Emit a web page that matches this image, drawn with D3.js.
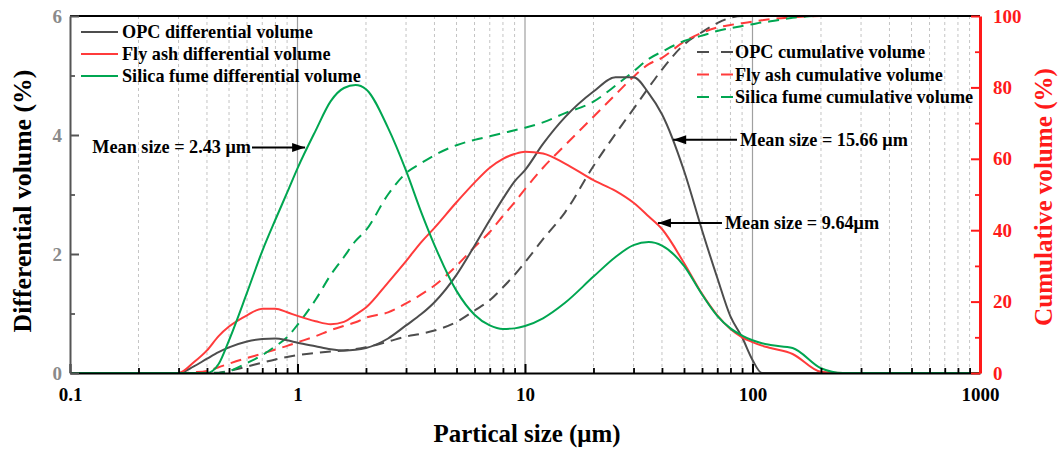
<!DOCTYPE html>
<html><head><meta charset="utf-8">
<script src="https://cdn.jsdelivr.net/npm/d3@7/dist/d3.min.js"></script>
<style>
html,body{margin:0;padding:0;background:#fff;}
svg text{font-family:"Liberation Serif","Times New Roman",serif;font-weight:bold;}
</style></head>
<body><svg id="c" width="1059" height="450"></svg>
<script>
// ---- data ----
const sizes = [0.1,0.2,0.3,0.35,0.4,0.45,0.5,0.6,0.7,0.8,0.9,1,1.2,1.4,1.6,1.8,2,2.5,3,3.5,4,5,6,7,8,9,10,12,15,20,25,30,35,40,50,60,70,80,90,100,110,120,150,200,250,1000];
const opcDiff =    [0,0,0,0.11,0.24,0.35,0.43,0.53,0.57,0.58,0.55,0.51,0.45,0.40,0.38,0.39,0.42,0.58,0.80,0.99,1.19,1.65,2.14,2.57,2.93,3.22,3.41,3.85,4.30,4.73,4.97,4.97,4.70,4.35,3.40,2.40,1.60,0.95,0.60,0.22,0,0,0,0,0,0];
const flyDiff =    [0,0,0,0.18,0.38,0.62,0.78,0.97,1.08,1.08,1.02,0.96,0.87,0.82,0.86,0.98,1.10,1.52,1.88,2.20,2.44,2.87,3.20,3.45,3.60,3.68,3.72,3.69,3.52,3.24,3.06,2.86,2.63,2.42,1.85,1.33,0.97,0.74,0.60,0.52,0.46,0.42,0.32,0.02,0,0];
const sfDiff =     [0,0,0,0,0,0.15,0.55,1.35,2.05,2.58,3.03,3.44,4.07,4.57,4.79,4.84,4.77,4.12,3.40,2.70,2.15,1.38,0.98,0.80,0.74,0.75,0.79,0.92,1.18,1.62,1.95,2.15,2.20,2.14,1.80,1.32,0.96,0.75,0.63,0.55,0.50,0.47,0.42,0.08,0,0];
const opcCum =     [0,0,0,0,0,0.1,0.6,1.8,2.9,3.8,4.5,5.0,5.6,6.0,6.3,6.7,7.2,8.8,10.2,11.0,11.9,14.3,17.5,20.4,24,27.5,31,37.5,45,58,67,74,80,85,92,95.5,98,99.5,100,100,100,100,100,100,100,100];
const flyCum =     [0,0,0,0.2,0.6,1.6,2.6,4.2,5.4,6.6,7.6,8.6,10.3,12,13.2,14.2,15.5,17,19.5,22,24.5,30,35.3,39.5,44,47.8,51.5,57.5,63.8,71.8,78,83,86.5,88.3,92.8,95.3,96.8,97.5,98,98.4,98.8,99.1,99.6,100,100,100];
const sfCum =      [0,0,0,0,0,0,0.5,2.8,5,7.5,10,13.5,20.5,27.5,32.5,37,40,50,56,58.8,61,63.8,65.3,66.3,67.2,68,68.7,70.2,72.8,76,80.5,84.5,88,90,93,94.5,95.8,96.6,97.2,97.7,98.2,98.5,99.5,100,100,100];

const xMajor = [0.1,1,10,100,1000];
const xMajorLabels = ["0.1","1","10","100","1000"];
const yLeftTicks = [0,2,4,6];
const yLeftMinor = [1,3,5];
const yRightTicks = [0,20,40,60,80,100];
const yRightMinor = [10,30,50,70,90];

const diffNames = ["OPC differential volume","Fly ash differential volume","Silica fume differential volume"];
const cumNames = ["OPC cumulative volume","Fly ash cumulative volume","Silica fume cumulative volume"];
const colors = ["#4d4d4d","#ff3b3b","#00a651"];

const annotations = [
  {text:"Mean size = 2.43 μm", tip:[1.08,3.79], tail:[0.631,3.79], dir:"right"},
  {text:"Mean size = 15.66 μm", tip:[44.8,3.92], tail:[85.5,3.92], dir:"left"},
  {text:"Mean size = 9.64μm", tip:[38.4,2.52], tail:[73.4,2.52], dir:"left"}
];

// ---- layout ----
const L=70, R=980, T=16, B=373;
const svg = d3.select("#c");
const x = d3.scaleLog().domain([0.1,1000]).range([L,R]);
const yL = d3.scaleLinear().domain([0,6]).range([B,T]);
const yR = d3.scaleLinear().domain([0,100]).range([B,T]);

function fit(sel, w, base){
  sel.attr("font-size",base);
  const n = sel.node().getComputedTextLength();
  if(n>0) sel.attr("font-size", (base*w/n).toFixed(2));
  return sel;
}

const minors=[];
for(let e=-1;e<3;e++){for(let k=2;k<=9;k++){minors.push(k*Math.pow(10,e));}}

// grid
const g = svg.append("g");
g.selectAll("line.mg").data(minors).enter().append("line")
  .attr("x1",d=>x(d)).attr("x2",d=>x(d)).attr("y1",T).attr("y2",B)
  .attr("stroke","#c4c4c4").attr("stroke-width",1).attr("stroke-dasharray","3,3");
g.selectAll("line.Mg").data([1,10,100]).enter().append("line")
  .attr("x1",d=>x(d)).attr("x2",d=>x(d)).attr("y1",T).attr("y2",B)
  .attr("stroke","#a0a0a0").attr("stroke-width",1.2);

// lines
const lineD = vals => d3.line().x((d,i)=>x(sizes[i])).y(d=>yL(d)).curve(d3.curveMonotoneX)(vals);
const lineC = vals => d3.line().x((d,i)=>x(sizes[i])).y(d=>yR(d)).curve(d3.curveMonotoneX)(vals);
const cumSeries=[opcCum,flyCum,sfCum];
const diffSeries=[opcDiff,flyDiff,sfDiff];
cumSeries.forEach((s,i)=>{
  svg.append("path").attr("d",lineC(s)).attr("fill","none").attr("stroke",colors[i])
    .attr("stroke-width",2).attr("stroke-dasharray","11,7");
});
diffSeries.forEach((s,i)=>{
  svg.append("path").attr("d",lineD(s)).attr("fill","none").attr("stroke",colors[i])
    .attr("stroke-width",2);
});

// top border
svg.append("line").attr("x1",L).attr("x2",R).attr("y1",T).attr("y2",T).attr("stroke","#000").attr("stroke-width",2);

// bottom axis
const xa = svg.append("g").attr("transform",`translate(0,${B})`)
  .call(d3.axisBottom(x).tickValues(xMajor).tickSizeInner(-9).tickSizeOuter(0).tickPadding(15)
    .tickFormat((d,i)=>xMajorLabels[i]));
xa.select(".domain").attr("stroke","#000").attr("stroke-width",2);
xa.selectAll(".tick line").attr("stroke","#000").attr("stroke-width",2);
xa.selectAll("text").attr("font-size",19).attr("fill","#000").attr("font-family","Liberation Serif").attr("font-weight","bold");
const xm = svg.append("g").attr("transform",`translate(0,${B})`)
  .call(d3.axisBottom(x).tickValues(minors).tickSizeInner(-5).tickSizeOuter(0).tickFormat(""));
xm.select(".domain").remove();
xm.selectAll(".tick line").attr("stroke","#000").attr("stroke-width",1.8);

// left axis
const la = svg.append("g").attr("transform",`translate(${L},0)`)
  .call(d3.axisLeft(yL).tickValues(yLeftTicks).tickSizeInner(-9).tickSizeOuter(0).tickPadding(8).tickFormat(d3.format("d")));
la.select(".domain").attr("stroke","#555").attr("stroke-width",2);
la.selectAll(".tick line").attr("stroke","#555").attr("stroke-width",2);
la.selectAll("text").attr("font-size",19).attr("fill","#8a8a8a").attr("font-family","Liberation Serif").attr("font-weight","bold");
const lm = svg.append("g").attr("transform",`translate(${L},0)`)
  .call(d3.axisLeft(yL).tickValues(yLeftMinor).tickSizeInner(-5).tickSizeOuter(0).tickFormat(""));
lm.select(".domain").remove();
lm.selectAll(".tick line").attr("stroke","#555").attr("stroke-width",1.8);

// right axis
const ra = svg.append("g").attr("transform",`translate(${R},0)`)
  .call(d3.axisRight(yR).tickValues(yRightTicks).tickSizeInner(-9).tickSizeOuter(0).tickPadding(13).tickFormat(d3.format("d")));
ra.select(".domain").attr("stroke","#ff1a1a").attr("stroke-width",3);
ra.selectAll(".tick line").attr("stroke","#ff1a1a").attr("stroke-width",2);
ra.selectAll("text").attr("font-size",19).attr("fill","#ff1a1a").attr("font-family","Liberation Serif").attr("font-weight","bold");
const rm = svg.append("g").attr("transform",`translate(${R},0)`)
  .call(d3.axisRight(yR).tickValues(yRightMinor).tickSizeInner(-5).tickSizeOuter(0).tickFormat(""));
rm.select(".domain").remove();
rm.selectAll(".tick line").attr("stroke","#ff1a1a").attr("stroke-width",1.8);

// axis titles
fit(svg.append("text").attr("x",527).attr("y",442).attr("text-anchor","middle").attr("fill","#000").text("Partical size (μm)"),187,22);
fit(svg.append("text").attr("transform","translate(31,201) rotate(-90)").attr("text-anchor","middle").attr("fill","#000").text("Differential volume (%)"),263,22);
fit(svg.append("text").attr("transform","translate(1052,197) rotate(-90)").attr("text-anchor","middle").attr("fill","#ff1a1a").text("Cumulative volume (%)"),258,22);

// legends
const legItems = [];
diffNames.forEach((n,i)=>{
  const yy = 32 + i*22;
  svg.append("line").attr("x1",81).attr("x2",118).attr("y1",yy).attr("y2",yy).attr("stroke",colors[i]).attr("stroke-width",2);
  legItems.push(svg.append("text").attr("x",122).attr("y",yy+6).attr("fill","#000").text(n));
});
fit(legItems[0],191,16.5);
const legFS = legItems[0].attr("font-size");
legItems.forEach(t=>t.attr("font-size",legFS));
cumNames.forEach((n,i)=>{
  const yy = 52 + i*22.5;
  svg.append("line").attr("x1",697).attr("x2",735).attr("y1",yy).attr("y2",yy).attr("stroke",colors[i]).attr("stroke-width",2).attr("stroke-dasharray","12,12");
  svg.append("text").attr("x",735).attr("y",yy+6).attr("font-size",legFS).attr("fill","#000").text(n);
});

// annotations
annotations.forEach(a=>{
  const tx=x(a.tip[0]), ty=yL(a.tip[1]), sx=x(a.tail[0]);
  svg.append("line").attr("x1",sx).attr("x2",tx).attr("y1",ty).attr("y2",ty).attr("stroke","#000").attr("stroke-width",2);
  const s = a.dir==="right"?-1:1;
  svg.append("path").attr("d",`M${tx},${ty} L${tx+s*13},${ty-4.5} L${tx+s*13},${ty+4.5} Z`).attr("fill","#000");
  if(a.dir==="right"){
    svg.append("text").attr("x",sx-1).attr("y",ty+6).attr("text-anchor","end").attr("font-size",legFS).attr("fill","#000").text(a.text);
  } else {
    svg.append("text").attr("x",sx+3).attr("y",ty+6).attr("font-size",legFS).attr("fill","#000").text(a.text);
  }
});
</script></body></html>
